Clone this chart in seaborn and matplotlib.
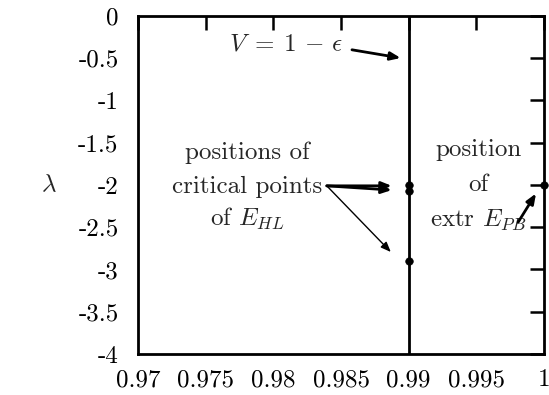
import matplotlib
matplotlib.use("Agg")
import matplotlib.pyplot as plt
import seaborn as sns

# data
line_x = [0.99, 0.99]
line_y = [0.0, -4.0]
pts_x = [0.99, 0.99, 0.99, 1.0]
pts_y = [-2.0, -2.07, -2.9, -2.0]
xticks = [0.97, 0.975, 0.98, 0.985, 0.99, 0.995, 1.0]
xtick_labels = ["0.97", "0.975", "0.98", "0.985", "0.99", "0.995", "1"]
yticks = [0, -0.5, -1, -1.5, -2, -2.5, -3, -3.5, -4]
ytick_labels = ["0", "-0.5", "-1", "-1.5", "-2", "-2.5", "-3", "-3.5", "-4"]

sns.set_theme(style="white")
plt.rcParams['font.family'] = ['cmr10', 'DejaVu Serif']
plt.rcParams['mathtext.fontset'] = 'cm'
plt.rcParams['axes.formatter.use_mathtext'] = True
plt.rcParams['axes.unicode_minus'] = False

fig = plt.figure(figsize=(5.49, 3.95), dpi=100)
ax = fig.add_axes([0.2514, 0.1038, 0.7395, 0.8557])

sns.lineplot(x=line_x, y=line_y, ax=ax, color="black", linewidth=2.0,
             sort=False, estimator=None, errorbar=None)
sns.scatterplot(x=pts_x, y=pts_y, ax=ax, color="black", s=30, edgecolor="black",
                zorder=5, clip_on=False)

ax.set_xlim(0.97, 1.0)
ax.set_ylim(-4, 0)
ax.set_xticks(xticks)
ax.set_xticklabels(xtick_labels)
ax.set_yticks(yticks)
ax.set_yticklabels(ytick_labels)
fs = 18
ax.tick_params(axis="both", which="both", direction="in", length=10, width=1.8,
               top=True, right=True, labelsize=fs, colors="black")
ax.tick_params(axis="y", pad=14)
ax.tick_params(axis="x", pad=11)
for sp in ax.spines.values():
    sp.set_color("black")
    sp.set_linewidth(2.0)

fig.text(49/549, 1 - 185/395, r"$\lambda$", fontsize=fs, ha="center", va="center")

ahead = "-|>,head_length=0.5,head_width=0.2"

# V = 1 - eps
ax.text(0.9852, -0.34, r"$V\;=\;1\,-\,\epsilon$", fontsize=fs, ha="right", va="center")
ax.annotate("", xy=(0.98941, -0.497), xytext=(0.98581, -0.40),
            arrowprops=dict(arrowstyle=ahead, color="black", lw=2.0, shrinkA=0, shrinkB=0))

# critical points text
ax.text(0.97805, -1.62, "positions of", fontsize=fs, ha="center", va="center")
ax.text(0.97805, -2.02, "critical points", fontsize=fs, ha="center", va="center")
ax.text(0.97805, -2.40, r"of $E_{HL}$", fontsize=fs, ha="center", va="center")
start = (0.98395, -2.01)
ax.annotate("", xy=(0.98875, -2.01), xytext=start,
            arrowprops=dict(arrowstyle=ahead, color="black", lw=2.0, shrinkA=0, shrinkB=0))
ax.annotate("", xy=(0.98875, -2.06), xytext=start,
            arrowprops=dict(arrowstyle=ahead, color="black", lw=2.0, shrinkA=0, shrinkB=0))
ax.annotate("", xy=(0.98868, -2.793), xytext=start,
            arrowprops=dict(arrowstyle=ahead, color="black", lw=1.0, shrinkA=0, shrinkB=0))

# extr E_PB text
ax.text(0.99515, -1.58, "position", fontsize=fs, ha="center", va="center")
ax.text(0.99515, -2.00, "of", fontsize=fs, ha="center", va="center")
ax.text(0.99515, -2.42, r"extr $E_{PB}$", fontsize=fs, ha="center", va="center")
ax.annotate("", xy=(0.99941, -2.10), xytext=(0.99809, -2.44),
            arrowprops=dict(arrowstyle=ahead, color="black", lw=2.0, shrinkA=0, shrinkB=0))

fig.savefig("out.png", dpi=100)
